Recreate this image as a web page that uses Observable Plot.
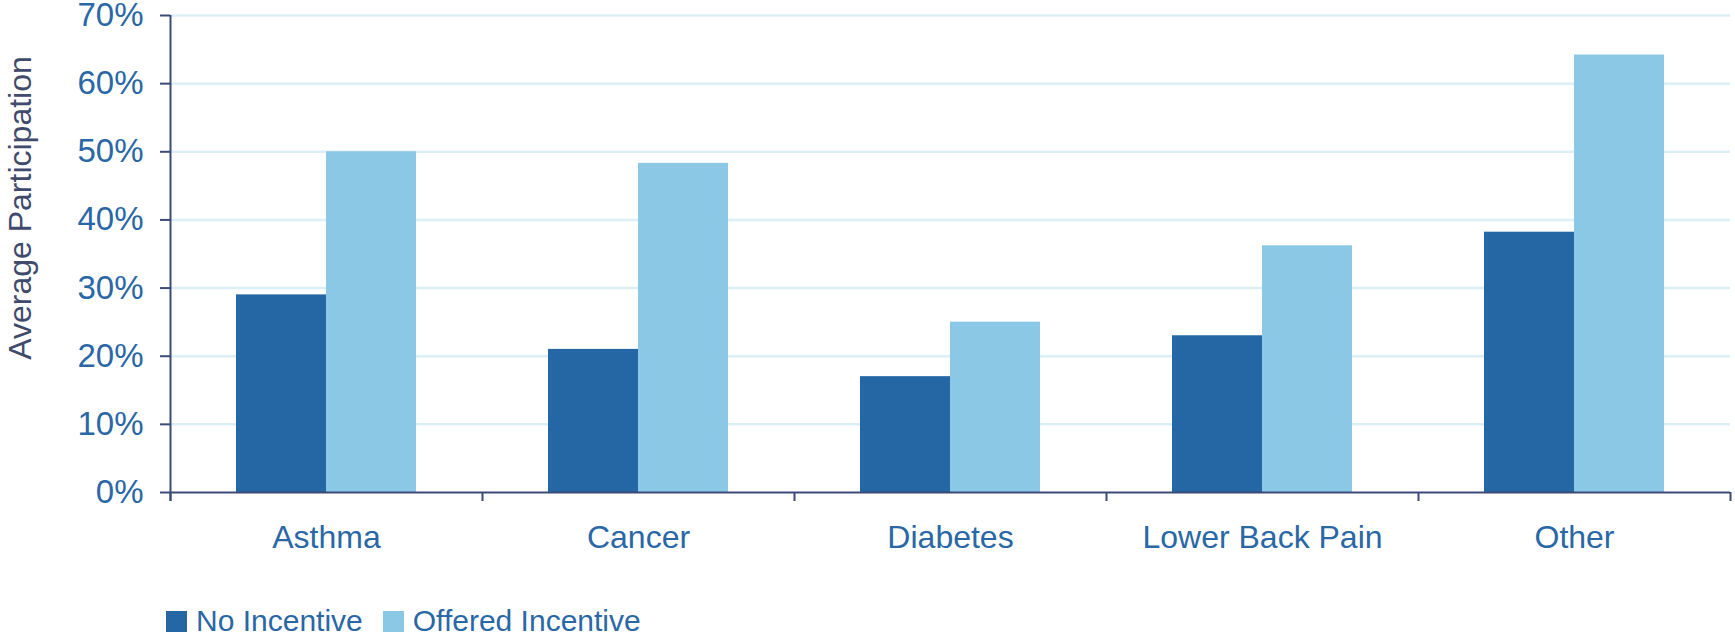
<!DOCTYPE html>
<html>
<head>
<meta charset="utf-8">
<script src="https://cdn.jsdelivr.net/npm/d3@7"></script>
<script src="https://cdn.jsdelivr.net/npm/@observablehq/plot@0.6"></script>
<style>
  html, body { margin: 0; padding: 0; background: #ffffff; }
  body { width: 1735px; height: 635px; overflow: hidden; font-family: "Liberation Sans", Arial, sans-serif; }
  #chart svg { display: block; overflow: visible; }
  .legend { display: flex; align-items: center; margin-left: 166px; margin-top: 16px; font-size: 30px; line-height: 30px; color: #2A67A6; }
  .legend .sw { width: 21px; height: 21px; margin-right: 9px; }
  .legend .item { display: flex; align-items: center; margin-right: 20px; }
</style>
</head>
<body>
<div id="chart"></div>
<script>
const categories = ["Asthma", "Cancer", "Diabetes", "Lower Back Pain", "Other"];
const seriesNames = ["No Incentive", "Offered Incentive"];
const noIncentive = [29, 21, 17, 23, 38.2];
const offeredIncentive = [50, 48.3, 25, 36.2, 64.2];
const yTicks = [0, 10, 20, 30, 40, 50, 60, 70];
const yTitle = ["Average Participation"];
const seriesColors = ["#2566A5", "#8AC8E5"];

const width = 1735, height = 590;
const marginLeft = 170, marginRight = 5, marginTop = 15, marginBottom = 98;
const bw = (width - marginLeft - marginRight) / categories.length;
const groupFrac = 0.577;
const outerGap = bw * (1 - groupFrac) / 2;
const barW = bw * groupFrac / 2;

const axisColor = "#3C4A78";
const textColor = "#2A67A6";
const titleColor = "#3F4A6C";
const gridColor = "#DCEEF8";

const rows = categories.map((c, i) => ({category: c, no: noIncentive[i], offered: offeredIncentive[i]}));

const chart = Plot.plot({
  width, height, marginLeft, marginRight, marginTop, marginBottom,
  style: {fontFamily: "'Liberation Sans', Arial, sans-serif", fontSize: "32px", background: "#ffffff", overflow: "visible"},
  x: {type: "band", domain: categories, padding: 0, axis: null},
  y: {domain: [0, 70], axis: null},
  marks: [
    Plot.ruleY(yTicks.filter(d => d > 0), {stroke: gridColor, strokeWidth: 2.5}),
    Plot.barY(rows, {x: "category", y: "no", fill: seriesColors[0], insetLeft: outerGap, insetRight: bw - outerGap - barW}),
    Plot.barY(rows, {x: "category", y: "offered", fill: seriesColors[1], insetLeft: outerGap + barW, insetRight: outerGap}),
    Plot.ruleY([0], {stroke: axisColor, strokeWidth: 2}),
    Plot.ruleX([categories[0]], {x: d => d, dx: -bw / 2, stroke: axisColor, strokeWidth: 2, insetBottom: -9}),
    Plot.axisX({ticks: categories, tickSize: 9, tickFormat: () => "", dx: -bw / 2, stroke: axisColor, strokeWidth: 2, label: null}),
    Plot.axisX({ticks: [categories[categories.length - 1]], tickSize: 9, tickFormat: () => "", dx: bw / 2, stroke: axisColor, strokeWidth: 2, label: null}),
    Plot.axisX({ticks: categories, tickSize: 0, tickPadding: 33, fill: textColor, fontSize: 32, label: null}),
    Plot.axisY({ticks: yTicks, tickSize: 10, tickFormat: () => "", stroke: axisColor, strokeWidth: 2, label: null}),
    Plot.axisY({ticks: yTicks, tickSize: 0, tickPadding: 27, tickFormat: d => d + "%", fill: textColor, fontSize: 33, label: null}),
    Plot.text(yTitle, {frameAnchor: "left", text: d => d, rotate: -90, dx: -150, dy: -46, lineAnchor: "middle", textAnchor: "middle", fill: titleColor, fontSize: 32})
  ]
});
document.getElementById("chart").appendChild(chart);

const legend = document.createElement("div");
legend.className = "legend";
seriesNames.forEach((name, i) => {
  const item = document.createElement("div");
  item.className = "item";
  const sw = document.createElement("div");
  sw.className = "sw";
  sw.style.background = seriesColors[i];
  const label = document.createElement("span");
  label.textContent = name;
  item.appendChild(sw);
  item.appendChild(label);
  legend.appendChild(item);
});
document.body.appendChild(legend);
</script>
</body>
</html>
